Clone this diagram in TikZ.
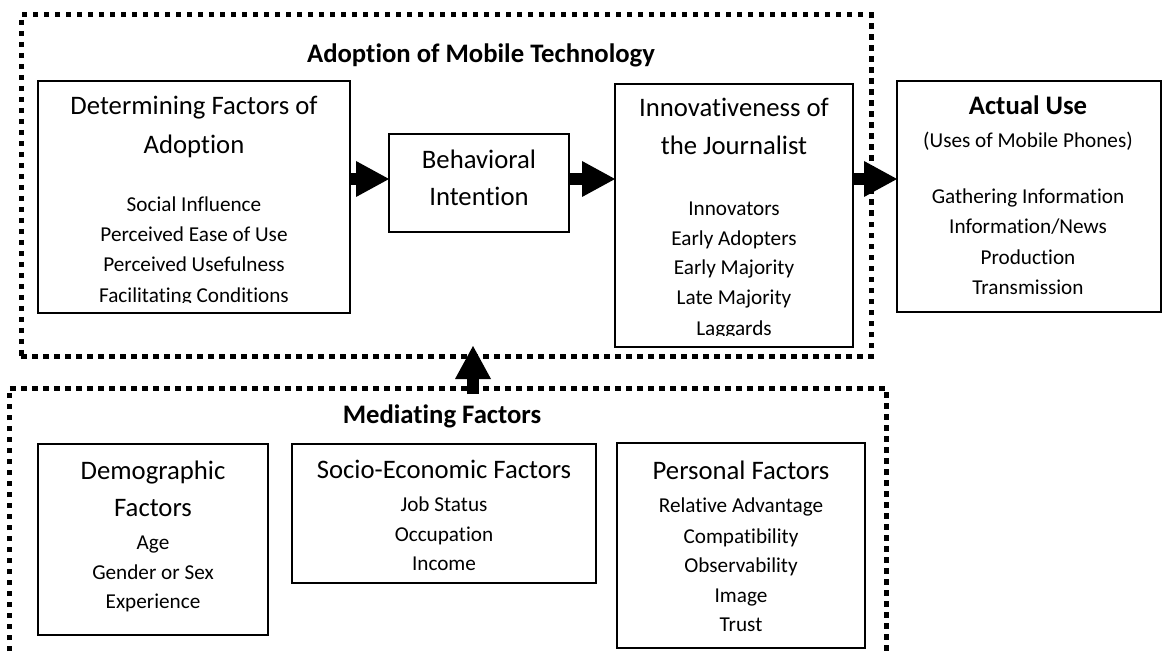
\documentclass[tikz,border=0pt]{standalone}
\usepackage{fontspec}
\setmainfont{Carlito}[Ligatures={NoCommon,NoContextual}]
\usetikzlibrary{arrows.meta,calc}
\begin{document}
\begin{tikzpicture}[x=1pt,y=-1pt,
  box/.style={draw=black,line width=1.6pt,inner sep=0pt,outer sep=0pt},
  frame/.style={draw=black,line width=5pt,dash pattern=on 5.5pt off 5.5pt},
  ttl/.style={inner sep=0pt,font=\fontsize{26.7}{32}\selectfont,text height=18pt,text depth=5pt},
  itm/.style={inner sep=0pt,font=\fontsize{21.2}{26}\selectfont,text height=14pt,text depth=4pt},
  hdg/.style={ttl,font=\fontsize{26.7}{32}\selectfont\bfseries},
  bigarrow/.style={line width=12pt,-{Triangle[length=33pt,width=36pt,line width=0pt]}}
]
\useasboundingbox (0,0) rectangle (1162,655);

% --- upper group: adoption of mobile technology ---
\node[frame, minimum width=850pt, minimum height=341pt] (adopt) at (446,185.5) {};
\node[hdg] (adoptT) at (481,56) {Adoption of Mobile Technology};

\node[box, minimum width=312pt, minimum height=232pt] (det) at (194,197) {};
\node[ttl] (det1) at (194,108) {Determining Factors of};
\node[ttl] (det2) at (194,147) {Adoption};
\node[itm] (det3) at (194,207) {Social Influence};
\node[itm] (det4) at (194,237) {Perceived Ease of Use};
\node[itm] (det5) at (194,267) {Perceived Usefulness};
\begin{scope}
  \clip (40,280) rectangle (348,302);
  \node[itm] (det6) at (194,297.5) {Facilitating Conditions};
\end{scope}

\node[box, minimum width=180pt, minimum height=98pt] (beh) at (479,183) {};
\node[ttl] (beh1) at (479,162) {Behavioral};
\node[ttl] (beh2) at (479,199) {Intention};

\node[box, minimum width=238pt, minimum height=263pt] (inn) at (734,215.5) {};
\node[ttl] (inn1) at (734,110) {Innovativeness of};
\node[ttl] (inn2) at (734,148) {the Journalist};
\node[itm] (inn3) at (734,210) {Innovators};
\node[itm] (inn4) at (734,240) {Early Adopters};
\node[itm] (inn5) at (734,269) {Early Majority};
\node[itm] (inn6) at (734,299) {Late Majority};
\begin{scope}
  \clip (617,315) rectangle (851,335);
  \node[itm] (inn7) at (734,330) {Laggards};
\end{scope}

% --- outcome ---
\node[box, minimum width=264pt, minimum height=231pt] (act) at (1029,196.5) {};
\node[hdg] (act1) at (1028,108) {Actual Use};
\node[itm] (act2) at (1028,143) {(Uses of Mobile Phones)};
\node[itm] (act3) at (1028,199) {Gathering Information};
\node[itm] (act4) at (1028,229) {Information/News};
\node[itm] (act5) at (1028,259) {Production};
\node[itm] (act6) at (1028,289) {Transmission};

% --- lower group: mediating factors ---
\draw[frame] (9,662) -- (9,388) -- (886,388) -- (886,662);
\node[hdg] (medT) at (442,417) {Mediating Factors};

\node[box, minimum width=230pt, minimum height=191pt] (dem) at (153,539.5) {};
\node[ttl] (dem1) at (153,473) {Demographic};
\node[ttl] (dem2) at (153,510) {Factors};
\node[itm] (dem3) at (153,544) {Age};
\node[itm] (dem4) at (153,574) {Gender or Sex};
\node[itm] (dem5) at (153,603) {Experience};

\node[box, minimum width=304pt, minimum height=139pt] (soc) at (444,513.5) {};
\node[ttl] (soc1) at (444,472) {Socio-Economic Factors};
\node[itm] (soc2) at (444,506) {Job Status};
\node[itm] (soc3) at (444,536) {Occupation};
\node[itm] (soc4) at (444,565) {Income};

\node[box, minimum width=248pt, minimum height=205pt] (per) at (741,545.5) {};
\node[ttl] (per1) at (741,473) {Personal Factors};
\node[itm] (per2) at (741,507) {Relative Advantage};
\node[itm] (per3) at (741,538) {Compatibility};
\node[itm] (per4) at (741,567) {Observability};
\node[itm] (per5) at (741,597) {Image};
\node[itm] (per6) at (741,626) {Trust};

% --- block arrows ---
\coordinate (row) at (0,179);
\coordinate (medtop) at (473,394);
\coordinate (adoptbot) at (473,346);
\draw[bigarrow] (det.east |- row) -- (beh.west |- row);
\draw[bigarrow] (beh.east |- row) -- (inn.west |- row);
\draw[bigarrow] (inn.east |- row) -- (act.west |- row);
\draw[bigarrow] (medtop) -- (adoptbot);
\end{tikzpicture}
\end{document}
